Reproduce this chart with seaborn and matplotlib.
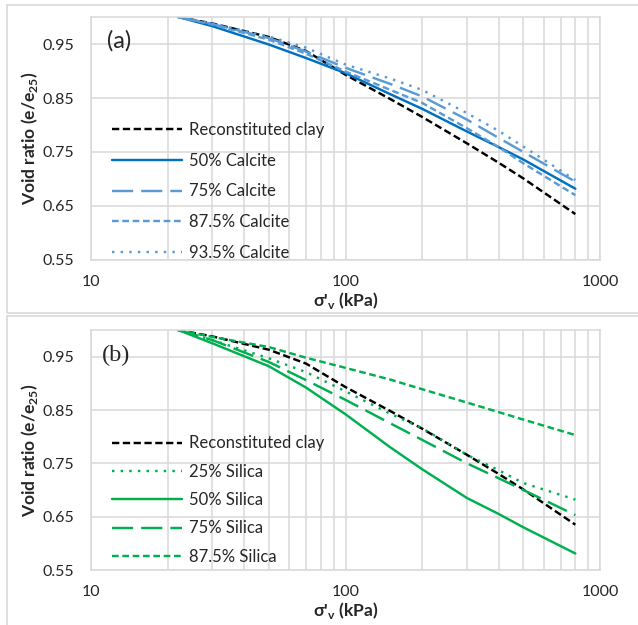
import matplotlib
matplotlib.use("Agg")
import matplotlib.pyplot as plt
from matplotlib.patches import Rectangle
from matplotlib.ticker import LogLocator, NullFormatter
import seaborn as sns

# data (e/e25 against sigma'v in kPa)
stress = [22, 30, 50, 70, 100, 150, 200, 300, 400, 500, 800]

clay = [1.000, 0.988, 0.963, 0.937, 0.893, 0.848, 0.815, 0.766, 0.730, 0.701, 0.635]

calcite_50 = [1.000, 0.983, 0.949, 0.924, 0.896, 0.857, 0.830, 0.788, 0.759, 0.736, 0.682]
calcite_75 = [1.000, 0.987, 0.961, 0.936, 0.906, 0.876, 0.853, 0.810, 0.776, 0.750, 0.695]
calcite_875 = [1.000, 0.986, 0.958, 0.932, 0.899, 0.865, 0.841, 0.794, 0.759, 0.729, 0.670]
calcite_935 = [1.000, 0.988, 0.964, 0.943, 0.912, 0.886, 0.865, 0.822, 0.789, 0.760, 0.698]

silica_25 = [1.000, 0.981, 0.947, 0.921, 0.885, 0.843, 0.816, 0.766, 0.737, 0.713, 0.682]
silica_50 = [1.000, 0.975, 0.932, 0.892, 0.842, 0.780, 0.739, 0.685, 0.655, 0.630, 0.581]
silica_75 = [1.000, 0.981, 0.940, 0.906, 0.869, 0.825, 0.794, 0.750, 0.722, 0.700, 0.653]
silica_875 = [1.000, 0.987, 0.968, 0.948, 0.929, 0.907, 0.889, 0.864, 0.846, 0.832, 0.803]

labels_a = ["Reconstituted clay", "50% Calcite", "75% Calcite", "87.5% Calcite", "93.5% Calcite"]
labels_b = ["Reconstituted clay", "25% Silica", "50% Silica", "75% Silica", "87.5% Silica"]

yticks = [0.55, 0.65, 0.75, 0.85, 0.95]

sns.set_style("white")
plt.rcParams['font.family'] = ['Lato', 'DejaVu Sans']
plt.rcParams['mathtext.fontset'] = 'custom'
plt.rcParams['mathtext.rm'] = 'Lato'
plt.rcParams['mathtext.bf'] = 'Lato:bold'

TXT = '#262626'
GRID = '#d9d9d9'
BLUE_D = '#0070C0'
BLUE_L = '#5B9BD5'
GREEN = '#00B050'
LW = 1.75
FS = 11.5

# line styles (Excel-like), in units of line width
DASH_CLAY = (0, (3.0, 1.45))
LONG = (0, (8.7, 3.3))
SHORT = (0, (2.75, 1.5))
DOT = (0, (1.0, 2.55))

W, H = 638, 625
fig = plt.figure(figsize=(W / 100, H / 100), dpi=100)

# chart-area borders
fig.patches.append(Rectangle((7 / W, 1 - 313 / H), 1.0, 308 / H, transform=fig.transFigure,
                             fill=False, edgecolor=GRID, lw=1.2))
fig.patches.append(Rectangle((7 / W, -0.05), 1.0, 1 - 316 / H + 0.05, transform=fig.transFigure,
                             fill=False, edgecolor=GRID, lw=1.2))

ax_a = fig.add_axes([91 / W, 1 - 260 / H, 509 / W, 243 / H])
ax_b = fig.add_axes([91 / W, 1 - 570 / H, 509 / W, 240 / H])


def style_axis(ax):
    ax.set_xscale('log')
    ax.set_xlim(10, 1000)
    ax.set_ylim(0.55, 1.0)
    ax.set_yticks(yticks)
    ax.set_yticklabels([f"{v:.2f}" for v in yticks])
    ax.set_xticks([10, 100, 1000])
    ax.set_xticklabels(['10', '100', '1000'])
    ax.xaxis.set_minor_locator(LogLocator(base=10, subs=range(2, 10)))
    ax.xaxis.set_minor_formatter(NullFormatter())
    ax.grid(which='both', axis='x', color=GRID, lw=1.1)
    ax.grid(which='major', axis='y', color=GRID, lw=1.1)
    ax.set_axisbelow(True)
    ax.tick_params(which='both', length=0, labelsize=FS, colors=TXT)
    ax.tick_params(axis='y', pad=12)
    ax.tick_params(axis='x', pad=11)
    for s in ax.spines.values():
        s.set_color(GRID)
        s.set_linewidth(1.1)
    ax.set_xlabel(r"σ'$_\mathbf{v}$ (kPa)", fontweight='bold', fontsize=12.5, color=TXT, labelpad=0.5)
    ax.set_ylabel(r"Void ratio (e/e$_\mathbf{25}$)", fontweight='bold', fontsize=12.5, color=TXT, labelpad=2)


def add_line(ax, y, color, ls, label):
    sns.lineplot(x=stress, y=y, ax=ax, color=color, lw=LW, linestyle=ls,
                 errorbar=None, legend=False, label=label)


# (a) calcite
add_line(ax_a, clay, 'black', DASH_CLAY, labels_a[0])
add_line(ax_a, calcite_50, BLUE_D, '-', labels_a[1])
add_line(ax_a, calcite_75, BLUE_L, LONG, labels_a[2])
add_line(ax_a, calcite_875, BLUE_L, SHORT, labels_a[3])
add_line(ax_a, calcite_935, BLUE_L, DOT, labels_a[4])

# (b) silica
add_line(ax_b, clay, 'black', DASH_CLAY, labels_b[0])
add_line(ax_b, silica_25, GREEN, DOT, labels_b[1])
add_line(ax_b, silica_50, GREEN, '-', labels_b[2])
add_line(ax_b, silica_75, GREEN, LONG, labels_b[3])
add_line(ax_b, silica_875, GREEN, SHORT, labels_b[4])

for ax, labels, yc, spacing in [(ax_a, labels_a, 0.282, 0.89), (ax_b, labels_b, 0.291, 0.74)]:
    style_axis(ax)
    leg = ax.legend(ax.get_lines()[:5], labels, loc='center left', bbox_to_anchor=(0.042, yc),
                    frameon=False, fontsize=12, handlelength=4.2, handletextpad=0.42,
                    labelspacing=spacing, borderpad=0, borderaxespad=0)
    for t in leg.get_texts():
        t.set_color(TXT)

ax_a.text(0.031, 0.90, "(a)", transform=ax_a.transAxes, fontsize=17, va='center', ha='left',
          color=TXT, family='Lato')
ax_b.text(0.022, 0.894, "(b)", transform=ax_b.transAxes, fontsize=17.5, va='center', ha='left',
          color=TXT, family='Liberation Serif')

fig.savefig("out.png", dpi=100)
